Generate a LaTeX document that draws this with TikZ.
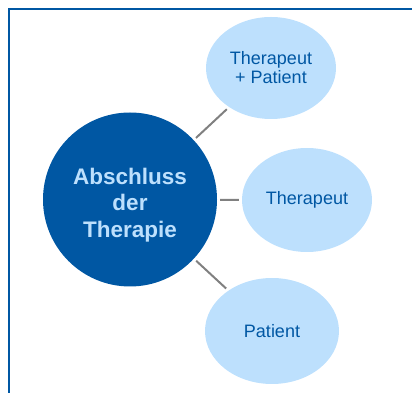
\documentclass[tikz,border=0pt]{standalone}
\usepackage{fontspec}
\setmainfont{Liberation Sans}
\usetikzlibrary{shapes.geometric}
\definecolor{tiefblau}{RGB}{0,87,163}
\definecolor{hellblau}{RGB}{189,224,253}
\definecolor{steggrau}{RGB}{128,128,128}

\begin{document}
\begin{tikzpicture}[
    x=1pt, y=1pt,
    kern/.style={circle, fill=tiefblau, minimum size=174pt, inner sep=0pt},
    blase/.style={ellipse, fill=hellblau, inner sep=0pt, text=tiefblau, align=center, font=\fontsize{18}{19}\selectfont},
    steg/.style={draw=steggrau, line width=2pt, shorten <=3pt, shorten >=3pt},
]
\useasboundingbox (0,0) rectangle (412,393);

% ---- Rahmen ----
\draw[tiefblau, line width=2.5pt] (412,384) -- (9,384) -- (9,0);

% ---- Zentrum ----
\node[kern] (abschluss) at (130,193.5) {};
\node[font=\bfseries\fontsize{22.5}{26.5}\selectfont, text=hellblau, align=center] (abschlusstext)
  at ([yshift=-5.5pt]abschluss.center) {Abschluss\\der\\Therapie};

% ---- Beteiligte ----
\node[blase, minimum width=130pt, minimum height=102pt] (beide) at (271,325) {Therapeut\\+ Patient};
\node[blase, minimum width=130pt, minimum height=104pt] (therapeut) at (307,193) {Therapeut};
\node[blase, minimum width=134pt, minimum height=106pt] (patient) at (272,62) {Patient};

% ---- Verbindungen ----
\draw[steg] (abschluss) -- (beide);
\draw[steg] (abschluss) -- (therapeut);
\draw[steg] (abschluss) -- (patient);

\end{tikzpicture}
\end{document}
